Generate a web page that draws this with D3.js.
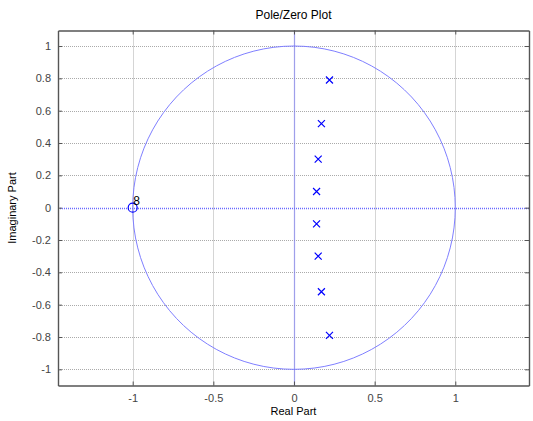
<!DOCTYPE html>
<html>
<head>
<meta charset="utf-8">
<script src="https://cdn.jsdelivr.net/npm/d3@7"></script>
<style>
  body { margin: 0; background: #fff; }
  text { font-family: "Liberation Sans", Arial, sans-serif; }
</style>
</head>
<body>
<div id="chart"></div>
<script>
// poles (x marks) and zeros (o marks)
var poleRe = [0.22, 0.17, 0.15, 0.14, 0.14, 0.15, 0.17, 0.22];
var poleIm = [0.79, 0.52, 0.30, 0.10, -0.10, -0.30, -0.52, -0.79];
var zeroRe = [-1];
var zeroIm = [0];
var zeroCount = [8];

var xTicks = [-1, -0.5, 0, 0.5, 1];
var yTicks = [-1, -0.8, -0.6, -0.4, -0.2, 0, 0.2, 0.4, 0.6, 0.8, 1];

var width = 533, height = 421;
var pLeft = 58, pTop = 30.5, pRight = 529, pBottom = 385.5;

var svg = d3.select("#chart").append("svg")
    .attr("width", width)
    .attr("height", height);

var x = d3.scaleLinear().domain([-1.463, 1.457]).range([pLeft, pRight]);
var y = d3.scaleLinear().domain([-1.1, 1.096]).range([pBottom, pTop]);

var fmt = function(d) { return String(d); };

// grid
svg.append("g").selectAll("line").data(xTicks).enter().append("line")
    .attr("x1", function(d) { return Math.round(x(d)) + 0.5; })
    .attr("x2", function(d) { return Math.round(x(d)) + 0.5; })
    .attr("y1", pTop).attr("y2", pBottom)
    .attr("stroke", "#aaaaaa").attr("stroke-width", 1)
    .attr("stroke-dasharray", "1,1");
svg.append("g").selectAll("line").data(yTicks).enter().append("line")
    .attr("y1", function(d) { return Math.round(y(d)) + 0.5; })
    .attr("y2", function(d) { return Math.round(y(d)) + 0.5; })
    .attr("x1", pLeft).attr("x2", pRight)
    .attr("stroke", "#aaaaaa").attr("stroke-width", 1)
    .attr("stroke-dasharray", "1,1");

// unit circle
var angles = d3.range(0, 101).map(function(i) { return i / 100 * 2 * Math.PI; });
svg.append("path")
    .datum(angles)
    .attr("fill", "none")
    .attr("stroke", "#7f7fff")
    .attr("stroke-width", 1)
    .attr("d", d3.line()
      .x(function(a) { return x(Math.cos(a)); })
      .y(function(a) { return y(Math.sin(a)); }));

// real / imaginary axes
svg.append("line")
    .attr("x1", pLeft).attr("x2", pRight)
    .attr("y1", Math.round(y(0)) + 0.5).attr("y2", Math.round(y(0)) + 0.5)
    .attr("stroke", "#6a6aff").attr("stroke-width", 1.3)
    .attr("stroke-dasharray", "1,1");
svg.append("line")
    .attr("y1", pTop).attr("y2", pBottom)
    .attr("x1", Math.round(x(0)) + 0.5).attr("x2", Math.round(x(0)) + 0.5)
    .attr("stroke", "#6a6aff").attr("stroke-width", 1.3)
    .attr("stroke-dasharray", "1,1");

// axes box with inward ticks
var xAxisB = d3.axisBottom(x).tickValues(xTicks).tickSizeInner(-4).tickSizeOuter(0).tickPadding(9)
    .tickFormat(fmt);
var xAxisT = d3.axisTop(x).tickValues(xTicks).tickSizeInner(-4).tickSizeOuter(0).tickFormat("");
var yAxisL = d3.axisLeft(y).tickValues(yTicks).tickSizeInner(-4).tickSizeOuter(0).tickPadding(7)
    .tickFormat(fmt);
var yAxisR = d3.axisRight(y).tickValues(yTicks).tickSizeInner(-4).tickSizeOuter(0).tickFormat("");

function styleAxis(g) {
  g.select(".domain").attr("stroke", "#555").attr("stroke-width", 1.4);
  g.selectAll(".tick line").attr("stroke", "#555");
  g.selectAll(".tick text").attr("fill", "#444").style("font-size", "11px")
    .style("font-family", "'Liberation Sans', Arial, sans-serif");
}
svg.append("g").attr("transform", "translate(0," + pBottom + ")").call(xAxisB).call(styleAxis);
svg.append("g").attr("transform", "translate(0," + pTop + ")").call(xAxisT).call(styleAxis);
svg.append("g").attr("transform", "translate(" + pLeft + ",0)").call(yAxisL).call(styleAxis);
svg.append("g").attr("transform", "translate(" + pRight + ",0)").call(yAxisR).call(styleAxis);

// poles
var poles = poleRe.map(function(r, i) { return [r, poleIm[i]]; });
svg.append("g").selectAll("path").data(poles).enter().append("path")
    .attr("d", function(d) {
      var cx = x(d[0]), cy = y(d[1]), s = 3.5;
      return "M" + (cx - s) + "," + (cy - s) + "L" + (cx + s) + "," + (cy + s) +
             "M" + (cx - s) + "," + (cy + s) + "L" + (cx + s) + "," + (cy - s);
    })
    .attr("stroke", "#0000ff").attr("stroke-width", 1.2).attr("fill", "none");

// zeros
var zeros = zeroRe.map(function(r, i) { return [r, zeroIm[i], zeroCount[i]]; });
svg.append("g").selectAll("circle").data(zeros).enter().append("circle")
    .attr("cx", function(d) { return x(d[0]); })
    .attr("cy", function(d) { return y(d[1]); })
    .attr("r", 4.5)
    .attr("fill", "none").attr("stroke", "#0000ff").attr("stroke-width", 1.2);
svg.append("g").selectAll("text").data(zeros).enter().append("text")
    .attr("x", function(d) { return x(d[0]) + 0.5; })
    .attr("y", function(d) { return y(d[1]) - 3; })
    .style("font-size", "12px")
    .attr("fill", "#000")
    .text(function(d) { return d[2]; });

// title and labels
svg.append("text")
    .attr("x", (pLeft + pRight) / 2).attr("y", 19)
    .attr("text-anchor", "middle")
    .style("font-size", "12px")
    .text("Pole/Zero Plot");
svg.append("text")
    .attr("x", (pLeft + pRight) / 2).attr("y", 415)
    .attr("text-anchor", "middle")
    .style("font-size", "11px")
    .text("Real Part");
svg.append("text")
    .attr("transform", "translate(16," + ((pTop + pBottom) / 2) + ") rotate(-90)")
    .attr("text-anchor", "middle")
    .style("font-size", "11px")
    .text("Imaginary Part");
</script>
</body>
</html>
